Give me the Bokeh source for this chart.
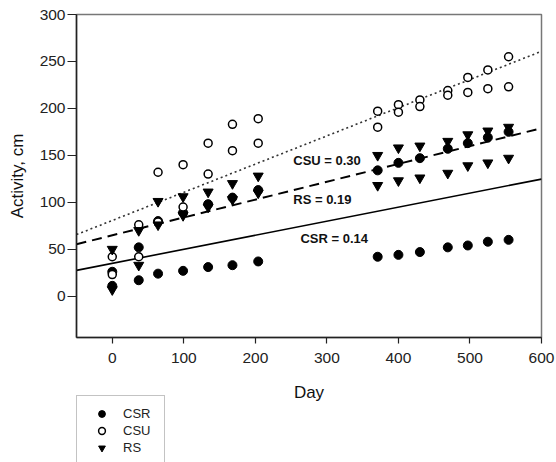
from bokeh.plotting import figure
from bokeh.layouts import column
from bokeh.models import Range1d, Legend, LegendItem, Label, FixedTicker
from bokeh.embed import file_html
from bokeh.resources import INLINE

# ---- data ----
days = [0, 37, 64, 99, 134, 168, 204, 371, 400, 430, 469, 497, 525, 554]
csr_high = [26, 52, 80, 89, 98, 105, 113, 134, 142, 147, 157, 163, 169, 175]
csr_low = [11, 17, 24, 27, 31, 33, 37, 42, 44, 47, 52, 54, 58, 60]
csu_high = [42, 76, 132, 140, 163, 183, 189, 197, 204, 209, 219, 233, 241, 255]
csu_low = [23, 42, 79, 95, 130, 155, 163, 180, 196, 202, 214, 217, 221, 223]
rs_high = [50, 70, 101, 106, 111, 120, 128, 150, 158, 160, 165, 172, 176, 180]
rs_low = [7, 33, 76, 86, 95, 103, 110, 118, 123, 126, 131, 139, 142, 147]

fit_x = [-50, 600]
csr_fit = [27.5, 124.7]
rs_fit = [55.3, 178.9]
csu_fit = [65.6, 260.8]

groups = ["CSR", "CSU", "RS"]
slope_labels = ["CSU = 0.30", "RS = 0.19", "CSR = 0.14"]
x_ticks = [0, 100, 200, 300, 400, 500, 600]
y_ticks = [0, 50, 100, 150, 200, 250, 300]
x_title = "Day"
y_title = "Activity, cm"

FONT = "Liberation Sans"

STYLES = {
    "CSR": dict(marker="circle", size=9, fill_color="black", line_color="black"),
    "CSU": dict(marker="circle", size=8, fill_color="white", line_color="black",
                line_width=1.5),
    "RS": dict(marker="inverted_triangle", size=10, fill_color="black",
               line_color="black"),
}

p = figure(width=556, height=375, output_backend="svg", toolbar_location=None,
           x_range=Range1d(-50, 600), y_range=Range1d(-44, 300),
           min_border_left=76, min_border_right=15, min_border_top=14,
           min_border_bottom=38)
p.grid.visible = False
p.outline_line_color = "#777777"
p.outline_line_width = 1.5
p.background_fill_color = "white"
p.border_fill_color = "white"

for ax in (p.xaxis[0], p.yaxis[0]):
    ax.axis_line_color = "#222222"
    ax.axis_line_width = 1.5
    ax.major_tick_line_color = "#222222"
    ax.major_tick_line_width = 1.2
    ax.minor_tick_line_color = None
    ax.major_tick_in = 0
    ax.major_label_text_font = FONT
    ax.major_label_text_font_size = "15.5px"
    ax.major_label_text_color = "#222222"
    ax.axis_label_text_font = FONT
    ax.axis_label_text_font_size = "17px"
    ax.axis_label_text_font_style = "normal"
    ax.axis_label_text_color = "#111111"

p.xaxis.ticker = FixedTicker(ticks=x_ticks)
p.yaxis.ticker = FixedTicker(ticks=y_ticks)
p.yaxis.axis_label = y_title
p.yaxis.major_tick_out = 9
p.yaxis.major_label_standoff = 2
p.yaxis.axis_label_standoff = 10
p.xaxis.major_tick_out = 6
p.xaxis.major_label_standoff = 9

# regression lines
p.line(fit_x, csr_fit, line_color="black", line_width=1.6)
p.line(fit_x, rs_fit, line_color="black", line_width=2, line_dash="10 6")
p.line(fit_x, csu_fit, line_color="#333333", line_width=1.6, line_dash="2 3")

p.scatter(days + days, csr_high + csr_low, **STYLES["CSR"])
p.scatter(days + days, csu_high + csu_low, **STYLES["CSU"])
p.scatter(days + days, rs_high + rs_low, **STYLES["RS"])

label_pos = [(253, 145), (253, 103), (263, 61)]
for txt, (lx, ly) in zip(slope_labels, label_pos):
    p.add_layout(Label(x=lx, y=ly, text=txt, text_font=FONT, text_font_size="13px",
                       text_font_style="bold", text_baseline="middle",
                       text_align="left", text_color="#111111"))

# ---- strip below the chart: x-axis title and legend ----
# (the column layout aligns this strip's frame with the chart's frame)
lg = figure(width=556, height=87, output_backend="svg", toolbar_location=None,
            x_range=Range1d(0, 1), y_range=Range1d(0, 1),
            x_axis_type=None, y_axis_type=None,
            min_border_left=0, min_border_right=0, min_border_top=0,
            min_border_bottom=0)
lg.grid.visible = False
lg.outline_line_color = None
lg.background_fill_color = "white"
lg.border_fill_color = "white"

lg.add_layout(Label(x=0.5, y=70, x_units="data", y_units="screen", text=x_title,
                    text_font=FONT, text_font_size="17px", text_color="#111111",
                    text_align="center", text_baseline="middle"))

items = []
for g in groups:
    # placed outside the visible range: only the legend swatch shows
    r = lg.scatter([5], [5], **STYLES[g])
    items.append(LegendItem(label=g, renderers=[r]))

legend = Legend(items=items, location=(0, -4), padding=9, spacing=0, margin=0,
                glyph_width=31, glyph_height=17, label_height=17,
                label_width=32, label_standoff=6,
                label_text_font=FONT, label_text_font_size="13px",
                label_text_color="#222222",
                border_line_color="#888888", border_line_width=1,
                background_fill_color="white", background_fill_alpha=1)
lg.add_layout(legend, "center")

layout = column(p, lg, spacing=0)
open("out.html", "w").write(file_html(layout, INLINE))
